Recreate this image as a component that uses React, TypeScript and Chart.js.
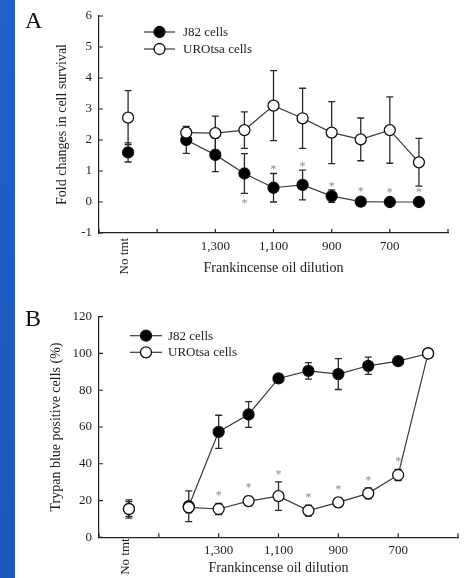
import React, { useEffect, useRef } from 'react';
import { Chart, registerables } from 'chart.js';

Chart.register(...registerables);

// ---------- data ----------
const dilutions = [1400, 1300, 1200, 1100, 1000, 900, 800, 700, 600];
const labelledDilutions = [1300, 1100, 900, 700];
const noTmtLabel = 'No tmt';
const NO_TMT_SLOT = 1600; // slot on the dilution axis left of the series
const seriesNames = ['J82 cells', 'UROtsa cells'];
const xTitle = 'Frankincense oil dilution';

// Panel A: fold changes in cell survival
const aTitleY = 'Fold changes in cell survival';
const aJ82 = [2.0, 1.52, 0.92, 0.46, 0.55, 0.19, 0.01, 0.0, 0.0];
const aJ82Err = [0.43, 0.54, 0.64, 0.46, 0.48, 0.2, 0, 0, 0];
const aJ82Stars = ['', '', 'down', 'up', 'up', 'up', 'up', 'up', 'up'];
const aJ82NoTmt = 1.6;
const aJ82NoTmtErr = 0.31;
const aURO = [2.24, 2.22, 2.32, 3.11, 2.7, 2.24, 2.02, 2.32, 1.28];
const aUROErr = [0.2, 0.55, 0.59, 1.13, 0.97, 1.0, 0.69, 1.07, 0.77];
const aUROStars = ['', '', '', '', '', '', '', '', ''];
const aURONoTmt = 2.72;
const aURONoTmtErr = 0.87;

// Panel B: trypan blue positive cells (%)
const bTitleY = 'Trypan blue positive cells (%)';
const bJ82 = [16.9, 57.4, 66.8, 86.4, 90.5, 88.8, 93.3, 95.8, 100];
const bJ82Err = [8.4, 9, 7, 2, 4.5, 8.4, 4.7, 2, 0];
const bJ82Stars = ['', '', '', '', '', '', '', '', ''];
const bJ82NoTmt = 15.4;
const bJ82NoTmtErr = 4;
const bURO = [16.3, 15.4, 19.7, 22.4, 14.5, 19.0, 23.9, 33.9, 100];
const bUROErr = [3, 3, 2.5, 7.7, 3, 2.5, 3, 3, 0];
const bUROStars = ['', 'up', 'up', 'up', 'up', 'up', 'up', 'up', ''];
const bURONoTmt = 15.4;
const bURONoTmtErr = 5;

// ---------- styling ----------
const FONT = "'Liberation Serif', 'Times New Roman', serif";
const TEXT = '#1c1c28';
const LINE = '#3a3a3a';

const fmt = (v: number) => String(v).replace(/\B(?=(\d{3})+(?!\d))/g, ',');

const errorBarPlugin = {
  id: 'errorBars',
  beforeDatasetsDraw(chart: any) {
    const { ctx } = chart;
    const ys = chart.scales.y;
    chart.data.datasets.forEach((ds: any, i: number) => {
      const errs = ds.errorBars;
      if (!errs) return;
      const meta = chart.getDatasetMeta(i);
      meta.data.forEach((pt: any, j: number) => {
        const e = errs[j];
        if (!e) return;
        const v = ds.data[j].y;
        const top = ys.getPixelForValue(v + e);
        const bot = ys.getPixelForValue(v - e);
        ctx.save();
        ctx.strokeStyle = '#2a2a2a';
        ctx.lineWidth = 1.3;
        ctx.beginPath();
        ctx.moveTo(pt.x, top);
        ctx.lineTo(pt.x, bot);
        ctx.moveTo(pt.x - 3.5, top);
        ctx.lineTo(pt.x + 3.5, top);
        ctx.moveTo(pt.x - 3.5, bot);
        ctx.lineTo(pt.x + 3.5, bot);
        ctx.stroke();
        ctx.restore();
      });
    });
  },
};

const starPlugin = {
  id: 'stars',
  afterDatasetsDraw(chart: any, _args: any, opts: any) {
    const { ctx } = chart;
    const ys = chart.scales.y;
    const gap = opts.gap ?? 6;
    chart.data.datasets.forEach((ds: any, i: number) => {
      const stars = ds.stars;
      if (!stars) return;
      const meta = chart.getDatasetMeta(i);
      meta.data.forEach((pt: any, j: number) => {
        const s = stars[j];
        if (!s) return;
        const v = ds.data[j].y;
        const e = (ds.errorBars && ds.errorBars[j]) || 0;
        const r = 6;
        let cy;
        if (s === 'up') {
          const top = Math.min(ys.getPixelForValue(v + e), pt.y - r);
          cy = top - gap;
        } else {
          const bot = Math.max(ys.getPixelForValue(v - e), pt.y + r);
          cy = bot + gap + 2;
        }
        ctx.save();
        ctx.font = `12px ${FONT}`;
        ctx.fillStyle = '#8486a8';
        ctx.textAlign = 'center';
        ctx.textBaseline = 'alphabetic';
        ctx.fillText('*', pt.x, cy + 5.8);
        ctx.restore();
      });
    });
  },
};

const axisDecorPlugin = {
  id: 'axisDecor',
  afterDraw(chart: any, _args: any, opts: any) {
    const { ctx, chartArea } = chart;
    const xs = chart.scales.x;
    const ys = chart.scales.y;
    ctx.save();
    ctx.strokeStyle = '#222';
    ctx.lineWidth = 1.2;
    ctx.beginPath();
    ys.ticks.forEach((t: any) => {
      const py = ys.getPixelForValue(t.value);
      ctx.moveTo(chartArea.left, py);
      ctx.lineTo(chartArea.left + 4, py);
    });
    xs.ticks.forEach((t: any) => {
      if ((t.value - 500) % 200 !== 0) return;
      const px = xs.getPixelForValue(t.value);
      ctx.moveTo(px, chartArea.bottom);
      ctx.lineTo(px, chartArea.bottom - 4);
    });
    ctx.stroke();
    // rotated "No tmt" label
    const px = xs.getPixelForValue(NO_TMT_SLOT) + (opts.noTmtDx ?? -4);
    ctx.translate(px, chartArea.bottom + (opts.noTmtDy ?? 4));
    ctx.rotate(-Math.PI / 2);
    ctx.font = `13px ${FONT}`;
    ctx.fillStyle = TEXT;
    ctx.textAlign = 'right';
    ctx.textBaseline = 'middle';
    ctx.fillText(noTmtLabel, 0, 0);
    ctx.restore();
  },
};

const legendPlugin = {
  id: 'insideLegend',
  afterDraw(chart: any, _args: any, opts: any) {
    const { ctx, chartArea } = chart;
    const x0 = chartArea.left + opts.dx;
    ctx.save();
    opts.items.forEach((it: any, k: number) => {
      const y = chartArea.top + opts.dy + k * opts.step;
      ctx.strokeStyle = LINE;
      ctx.lineWidth = 1.2;
      ctx.beginPath();
      ctx.moveTo(x0, y);
      ctx.lineTo(x0 + opts.len, y);
      ctx.stroke();
      ctx.beginPath();
      ctx.arc(x0 + opts.len / 2, y, 5.5, 0, Math.PI * 2);
      ctx.fillStyle = it.fill;
      ctx.fill();
      ctx.strokeStyle = '#111';
      ctx.lineWidth = 1.3;
      ctx.stroke();
      ctx.font = `13px ${FONT}`;
      ctx.fillStyle = TEXT;
      ctx.textAlign = 'left';
      ctx.textBaseline = 'middle';
      ctx.fillText(it.label, x0 + opts.len + opts.gap, y + 0.5);
    });
    ctx.restore();
  },
};

type Panel = {
  j82: number[]; j82Err: number[]; j82Stars: string[]; j82NoTmt: number; j82NoTmtErr: number;
  uro: number[]; uroErr: number[]; uroStars: string[]; uroNoTmt: number; uroNoTmtErr: number;
  yMin: number; yMax: number; yStep: number; yTitle: string;
  padTop: number; padRight: number; xAxisH: number; xTickPad: number; xTitlePad: number; yTitlePad: number;
  legend: { dx: number; dy: number; step: number; len: number; gap: number };
  starGap: number; noTmtDx: number; noTmtDy: number;
};

function buildConfig(p: Panel): any {
  const pts = (vals: number[]) => dilutions.map((d, i) => ({ x: d, y: vals[i] }));
  const common = {
    borderColor: LINE,
    borderWidth: 1.2,
    pointRadius: 5.5,
    pointHoverRadius: 5.5,
    pointBorderColor: '#111',
    pointBorderWidth: 1.3,
    fill: false,
    tension: 0,
  };
  return {
    type: 'line',
    data: {
      datasets: [
        { ...common, label: seriesNames[1], data: pts(p.uro), errorBars: p.uroErr, stars: p.uroStars, pointBackgroundColor: '#fff' },
        { ...common, label: seriesNames[1] + ' (no tmt)', data: [{ x: NO_TMT_SLOT, y: p.uroNoTmt }], errorBars: [p.uroNoTmtErr], showLine: false, pointBackgroundColor: '#fff' },
        { ...common, label: seriesNames[0], data: pts(p.j82), errorBars: p.j82Err, stars: p.j82Stars, pointBackgroundColor: '#000' },
        { ...common, label: seriesNames[0] + ' (no tmt)', data: [{ x: NO_TMT_SLOT, y: p.j82NoTmt }], errorBars: [p.j82NoTmtErr], showLine: false, pointBackgroundColor: '#000' },
      ],
    },
    options: {
      responsive: false,
      animation: false,
      devicePixelRatio: 1,
      layout: { padding: { left: 40, top: p.padTop, right: p.padRight, bottom: 0 } },
      plugins: {
        legend: { display: false },
        tooltip: { enabled: false },
        stars: { gap: p.starGap },
        axisDecor: { noTmtDx: p.noTmtDx, noTmtDy: p.noTmtDy },
        insideLegend: {
          ...p.legend,
          items: [
            { label: seriesNames[0], fill: '#000' },
            { label: seriesNames[1], fill: '#fff' },
          ],
        },
      },
      scales: {
        x: {
          type: 'linear',
          reverse: true,
          min: 500,
          max: 1700,
          ticks: {
            stepSize: 100,
            autoSkip: false,
            maxRotation: 0,
            minRotation: 0,
            padding: p.xTickPad,
            color: TEXT,
            font: { family: FONT, size: 13 },
            callback: (v: number) => (labelledDilutions.includes(v) ? fmt(v) : ''),
          },
          grid: { display: false, drawTicks: false },
          border: { display: true, color: '#222', width: 1.2 },
          title: {
            display: true,
            text: xTitle,
            color: TEXT,
            font: { family: FONT, size: 14 },
            padding: { top: 0, bottom: p.xTitlePad },
          },
          afterFit: (s: any) => { s.height = p.xAxisH; },
        },
        y: {
          type: 'linear',
          min: p.yMin,
          max: p.yMax,
          ticks: {
            stepSize: p.yStep,
            padding: 7,
            color: TEXT,
            font: { family: FONT, size: 13 },
          },
          grid: { display: false, drawTicks: false },
          border: { display: true, color: '#222', width: 1.2 },
          title: {
            display: true,
            text: p.yTitle,
            color: TEXT,
            font: { family: FONT, size: 14 },
            padding: { top: p.yTitlePad, bottom: 0 },
          },
          afterFit: (s: any) => { s.width = 59; },
        },
      },
    },
    plugins: [errorBarPlugin, starPlugin, axisDecorPlugin, legendPlugin],
  };
}

const panelA: Panel = {
  j82: aJ82, j82Err: aJ82Err, j82Stars: aJ82Stars, j82NoTmt: aJ82NoTmt, j82NoTmtErr: aJ82NoTmtErr,
  uro: aURO, uroErr: aUROErr, uroStars: aUROStars, uroNoTmt: aURONoTmt, uroNoTmtErr: aURONoTmtErr,
  yMin: -1, yMax: 6, yStep: 1, yTitle: aTitleY,
  padTop: 16, padRight: 17, xAxisH: 57, xTickPad: 6, xTitlePad: 13.5, yTitlePad: 14,
  legend: { dx: 45, dy: 16, step: 17, len: 31, gap: 8 },
  starGap: 6, noTmtDx: -4, noTmtDy: 5,
};

const panelB: Panel = {
  j82: bJ82, j82Err: bJ82Err, j82Stars: bJ82Stars, j82NoTmt: bJ82NoTmt, j82NoTmtErr: bJ82NoTmtErr,
  uro: bURO, uroErr: bUROErr, uroStars: bUROStars, uroNoTmt: bURONoTmt, uroNoTmtErr: bURONoTmtErr,
  yMin: 0, yMax: 120, yStep: 20, yTitle: bTitleY,
  padTop: 26.7, padRight: 7, xAxisH: 40.7, xTickPad: 5, xTitlePad: 1.5, yTitlePad: 7.6,
  legend: { dx: 31, dy: 19, step: 16.6, len: 32, gap: 6 },
  starGap: 9.5, noTmtDx: -3, noTmtDy: 1,
};

function PanelChart({ panel, top, height }: { panel: Panel; top: number; height: number }) {
  const ref = useRef<HTMLCanvasElement | null>(null);
  useEffect(() => {
    if (!ref.current) return;
    const chart = new Chart(ref.current, buildConfig(panel));
    return () => chart.destroy();
  }, [panel]);
  return (
    <canvas
      ref={ref}
      width={465}
      height={height}
      style={{ position: 'absolute', left: 0, top, width: 465, height }}
    />
  );
}

export default function App() {
  const letter: React.CSSProperties = {
    position: 'absolute',
    fontFamily: FONT,
    fontSize: 24,
    lineHeight: '24px',
    color: '#111',
  };
  return (
    <div style={{ position: 'absolute', left: 0, top: 0, width: 465, height: 578, background: '#fff', overflow: 'hidden' }}>
      <PanelChart panel={panelA} top={0} height={290} />
      <PanelChart panel={panelB} top={290} height={288} />
      <div
        style={{
          position: 'absolute', left: 0, top: 0, width: 15, height: 578,
          background: 'linear-gradient(180deg, #1f60ca 0%, #1c58bb 100%)',
        }}
      />
      <div style={{ ...letter, left: 25, top: 8 }}>A</div>
      <div style={{ ...letter, left: 25, top: 306 }}>B</div>
    </div>
  );
}
